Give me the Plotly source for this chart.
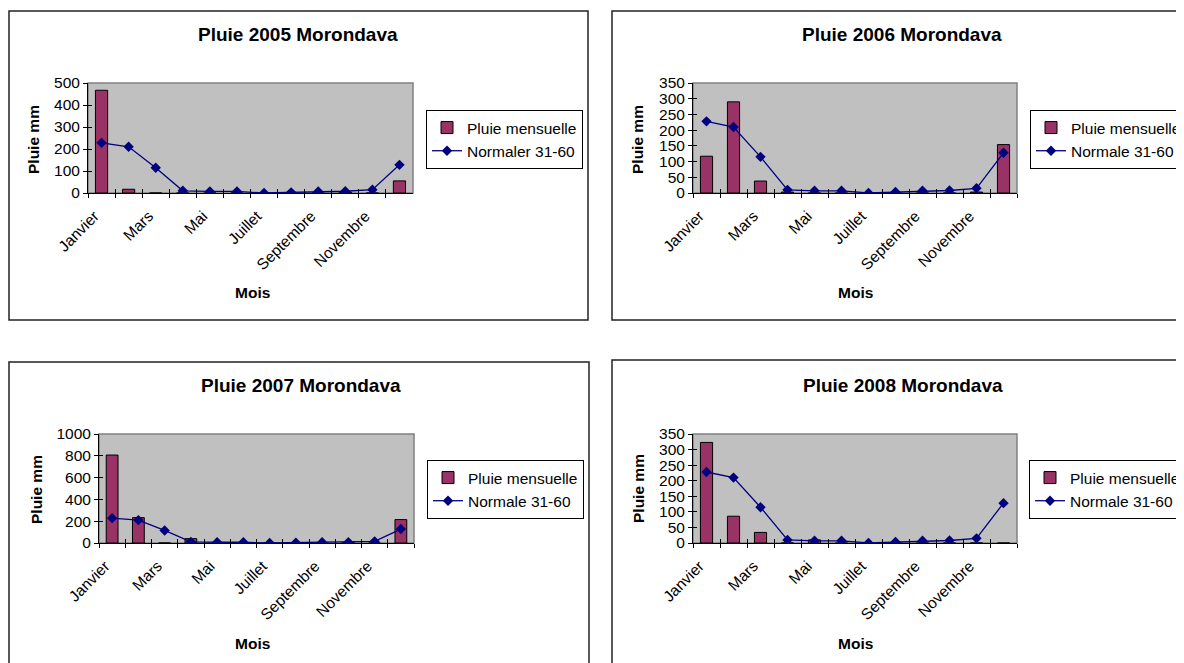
import plotly.graph_objects as go

# ---------------- data ----------------
MOIS = ["Janvier", "Février", "Mars", "Avril", "Mai", "Juin", "Juillet",
        "Août", "Septembre", "Octobre", "Novembre", "Décembre"]
TICK_LABELS = ["Janvier", "", "Mars", "", "Mai", "", "Juillet", "",
               "Septembre", "", "Novembre", ""]

NORMALE = [228, 210, 115, 10, 7, 7, 0, 3, 7, 8, 15, 128]

PLUIE_2005 = [467, 17, 0, 0, 0, 0, 0, 0, 0, 4, 0, 55]
PLUIE_2006 = [117, 290, 38, 3, 0, 0, 0, 0, 0, 0, 3, 154]
PLUIE_2007 = [807, 233, 0, 40, 0, 0, 0, 0, 0, 4, 0, 215]
PLUIE_2008 = [323, 86, 34, 0, 10, 0, 0, 0, 0, 0, 0, 0]

SERIES = [PLUIE_2005, PLUIE_2006, PLUIE_2007, PLUIE_2008]
TITRES = ["Pluie 2005 Morondava", "Pluie 2006 Morondava",
          "Pluie 2007 Morondava", "Pluie 2008 Morondava"]
NOM_BARRES = "Pluie mensuelle"
NOMS_NORMALE = ["Normaler 31-60", "Normale 31-60", "Normale 31-60", "Normale 31-60"]
Y_MAX = [500, 350, 1000, 350]
Y_DTICK = [100, 50, 200, 50]
Y_TITLE = "Pluie mm"
X_TITLE = "Mois"

# ---------------- layout (page pixels of the reference) ----------------
W, H = 1184, 663
OFFX, OFFY = 8, 8  # page body margin around the plot div
PANELS = [
    dict(box=(9, 11, 588, 320), plot=(88, 83, 413, 193), title=(298, 35),
         ylab=(34, 140), xlab=(252, 292), legend=(426, 110)),
    dict(box=(612, 11, 1210, 320), plot=(693, 83, 1017, 193), title=(902, 35),
         ylab=(638, 140), xlab=(855, 292), legend=(1030, 110)),
    dict(box=(9, 362, 589, 700), plot=(99, 434, 414, 543), title=(301, 385),
         ylab=(36, 490), xlab=(252, 643), legend=(427, 460)),
    dict(box=(612, 360, 1210, 700), plot=(693, 434, 1017, 543), title=(903, 385),
         ylab=(638, 489), xlab=(855, 643), legend=(1029, 460)),
]

FONT = "Liberation Sans, Arial, sans-serif"
BAR_COLOR = "#993366"
LINE_COLOR = "#000080"
TICKLEN = 4


def px(x):
    return (x - OFFX) / W


def py(y):
    return 1 - (y - OFFY) / H


fig = go.Figure()
shapes = []
annotations = []
layout_axes = {}
n_cat = len(MOIS)
boundaries = [k - 0.5 for k in range(n_cat + 1)]

for i, (pluie, titre) in enumerate(zip(SERIES, TITRES)):
    n = i + 1
    sfx = "" if n == 1 else str(n)
    osfx = str(n + 4)  # overlay axes for the inner half of the crossing ticks
    p = PANELS[i]
    leg = "legend" if n == 1 else f"legend{n}"

    fig.add_trace(go.Bar(
        x=MOIS, y=pluie, name=NOM_BARRES,
        marker=dict(color=BAR_COLOR, line=dict(color="black", width=1)),
        width=0.45, xaxis=f"x{sfx}", yaxis=f"y{sfx}", legend=leg,
    ))
    fig.add_trace(go.Scatter(
        x=MOIS, y=NORMALE, name=NOMS_NORMALE[i], mode="lines+markers",
        line=dict(color=LINE_COLOR, width=1.3),
        marker=dict(symbol="diamond", size=8, color=LINE_COLOR),
        xaxis=f"x{sfx}", yaxis=f"y{sfx}", legend=leg,
    ))
    # empty trace so the overlay axes (inner tick halves) get drawn
    fig.add_trace(go.Scatter(x=[], y=[], xaxis=f"x{osfx}", yaxis=f"y{osfx}",
                             showlegend=False, hoverinfo="skip"))

    x0, y0, x1, y1 = p["plot"]
    common = dict(showgrid=False, zeroline=False, automargin=False,
                  tickcolor="black", tickwidth=1)
    layout_axes[f"xaxis{sfx}"] = dict(
        domain=[px(x0), px(x1)], anchor=f"y{sfx}", type="category",
        categoryorder="array", categoryarray=MOIS, range=[-0.5, n_cat - 0.5],
        tickmode="array", tickvals=MOIS, ticktext=TICK_LABELS,
        tickson="boundaries", ticks="outside", ticklen=TICKLEN,
        ticklabelstandoff=7, ticklabelshift=-7,
        showline=True, linecolor="black", linewidth=1, tickangle=-45,
        tickfont=dict(family=FONT, size=15.5, color="black"), **common,
    )
    layout_axes[f"yaxis{sfx}"] = dict(
        domain=[py(y1), py(y0)], anchor=f"x{sfx}", range=[0, Y_MAX[i]],
        dtick=Y_DTICK[i], tick0=0, ticks="outside", ticklen=TICKLEN,
        showline=True, linecolor="black", linewidth=1,
        tickfont=dict(family=FONT, size=15.5, color="black"), **common,
    )
    layout_axes[f"xaxis{osfx}"] = dict(
        overlaying=f"x{sfx}", anchor=f"y{osfx}", side="bottom", type="linear",
        range=[-0.5, n_cat - 0.5], tickmode="array", tickvals=boundaries,
        ticks="inside", ticklen=TICKLEN, showticklabels=False, showline=False,
        **common,
    )
    layout_axes[f"yaxis{osfx}"] = dict(
        overlaying=f"y{sfx}", anchor=f"x{osfx}", side="left", type="linear",
        range=[0, Y_MAX[i]], dtick=Y_DTICK[i], tick0=0,
        ticks="inside", ticklen=TICKLEN, showticklabels=False, showline=False,
        **common,
    )
    layout_axes[leg] = dict(
        x=px(p["legend"][0]), y=py(p["legend"][1]), xref="container", yref="container",
        xanchor="left", yanchor="top",
        bgcolor="white", bordercolor="black", borderwidth=1,
        font=dict(family=FONT, size=15.5, color="black"), itemwidth=30,
        tracegroupgap=0,
    )

    # plot-area border (grey) and outer chart frame
    shapes.append(dict(type="rect", xref=f"x{sfx} domain", yref=f"y{sfx} domain",
                       x0=0, y0=0, x1=1, y1=1, line=dict(color="#808080", width=1.5),
                       layer="below"))
    bx0, by0, bx1, by1 = p["box"]
    shapes.append(dict(type="rect", xref="paper", yref="paper",
                       x0=px(bx0), x1=px(bx1), y0=py(by1), y1=py(by0),
                       line=dict(color="#222222", width=1.5)))

    annotations.append(dict(text=f"<b>{titre}</b>", x=px(p["title"][0]), y=py(p["title"][1]),
                            xref="paper", yref="paper", showarrow=False,
                            xanchor="center", yanchor="middle",
                            font=dict(family=FONT, size=19, color="black")))
    annotations.append(dict(text=f"<b>{Y_TITLE}</b>", x=px(p["ylab"][0]), y=py(p["ylab"][1]),
                            xref="paper", yref="paper", showarrow=False, textangle=-90,
                            xanchor="center", yanchor="middle",
                            font=dict(family=FONT, size=15.5, color="black")))
    annotations.append(dict(text=f"<b>{X_TITLE}</b>", x=px(p["xlab"][0]), y=py(p["xlab"][1]),
                            xref="paper", yref="paper", showarrow=False,
                            xanchor="center", yanchor="middle",
                            font=dict(family=FONT, size=15.5, color="black")))

fig.update_layout(
    template="none",
    width=W, height=H, margin=dict(l=0, r=0, t=0, b=0, autoexpand=False),
    paper_bgcolor="white", plot_bgcolor="#C0C0C0",
    font=dict(family=FONT, color="black"),
    barmode="overlay", showlegend=True,
    shapes=shapes, annotations=annotations,
    **layout_axes,
)

fig.write_html("out.html")
